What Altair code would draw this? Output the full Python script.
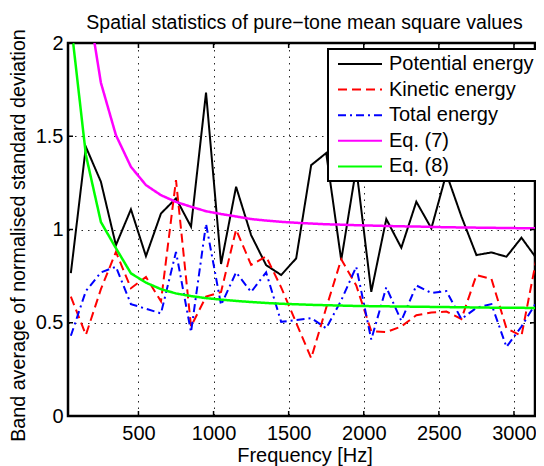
import altair as alt
import pandas as pd

# ---------------- data ----------------
freq = [50, 150, 250, 350, 450, 550, 650, 750, 850, 950, 1050, 1150, 1250, 1350,
        1450, 1550, 1650, 1750, 1850, 1950, 2050, 2150, 2250, 2350, 2450, 2550,
        2650, 2750, 2850, 2950, 3050, 3150]

potential = [0.766, 1.443, 1.256, 0.916, 1.108, 0.857, 1.086, 1.167, 1.015, 1.734,
             0.815, 1.229, 0.970, 0.809, 0.756, 0.845, 1.345, 1.410, 0.836, 1.330,
             0.666, 1.056, 0.902, 1.149, 1.006, 1.300, 1.070, 0.863, 0.877, 0.854,
             0.956, 0.845]

kinetic = [0.640, 0.435, 0.680, 0.880, 0.685, 0.745, 0.615, 1.265, 0.480, 0.640,
           0.665, 1.000, 0.810, 0.855, 0.690, 0.500, 0.310, 0.580, 0.840, 0.700,
           0.455, 0.450, 0.480, 0.540, 0.555, 0.560, 0.520, 0.755, 0.735, 0.470,
           0.430, 0.845]

total = [0.430, 0.670, 0.770, 0.800, 0.600, 0.575, 0.550, 0.880, 0.450, 1.030,
         0.595, 0.770, 0.665, 0.770, 0.505, 0.515, 0.525, 0.470, 0.620, 0.800,
         0.410, 0.690, 0.510, 0.700, 0.660, 0.670, 0.520, 0.580, 0.600, 0.370,
         0.480, 0.610]

eq7 = [3.400, 2.290, 1.787, 1.506, 1.336, 1.238, 1.184, 1.148, 1.122, 1.098,
       1.083, 1.070, 1.056, 1.048, 1.041, 1.036, 1.032, 1.028, 1.026, 1.023,
       1.021, 1.019, 1.017, 1.016, 1.014, 1.012, 1.011, 1.010, 1.009, 1.008,
       1.007, 1.006]

eq8 = [2.110, 1.400, 1.040, 0.900, 0.765, 0.715, 0.680, 0.657, 0.643, 0.632,
       0.624, 0.617, 0.611, 0.606, 0.602, 0.599, 0.596, 0.594, 0.592, 0.590,
       0.589, 0.588, 0.587, 0.586, 0.585, 0.584, 0.583, 0.582, 0.581, 0.580,
       0.580, 0.579]

series_names = ["Potential energy", "Kinetic energy", "Total energy", "Eq. (7)", "Eq. (8)"]
series_colors = ["#000000", "#ff0000", "#0000ff", "#ff00ff", "#00ff00"]
series_dashes = [[1, 0], [9, 5], [8, 4, 2, 4], [1, 0], [1, 0]]
series_widths = [2, 2, 2, 2.5, 2.5]

x_ticks = [500, 1000, 1500, 2000, 2500, 3000]
y_ticks = [0, 0.5, 1, 1.5, 2]

FONT = "Liberation Sans"
W, H = 467, 373

rows = []
for name, vals in zip(series_names, [potential, kinetic, total, eq7, eq8]):
    for f, v in zip(freq, vals):
        rows.append({"freq": f, "value": v, "series": name})
df = pd.DataFrame(rows)

x_scale = alt.Scale(domain=[31, 3140], nice=False, zero=False)
y_scale = alt.Scale(domain=[0, 2], nice=False, zero=False)

x_axis = alt.Axis(values=x_ticks, format="d", title="Frequency [Hz]",
                  titleX=W / 2 + 3, titleY=45.5, titleAlign="center", titleBaseline="alphabetic",
                  titleFontSize=20, labelPadding=7)
y_axis = alt.Axis(values=y_ticks, format="~g", title="Band average of normalised standard deviation",
                  titleX=-44, titleY=192, titleAlign="center", titleBaseline="alphabetic",
                  titleAngle=-90, titleFontSize=19.7, labelPadding=5)

legend = alt.Legend(title=None, orient="none", legendX=260, legendY=6,
                    symbolType="M-2.2,0H2.2", symbolSize=400, symbolStrokeWidth=2,
                    symbolOffset=17, labelOffset=18, labelFontSize=20, labelFont=FONT,
                    labelColor="black", labelLimit=0, rowPadding=4.6, padding=4,
                    fillColor="white", strokeColor="black")

color = alt.Color("series:N", scale=alt.Scale(domain=series_names, range=series_colors),
                  legend=legend, sort=series_names)
dash = alt.StrokeDash("series:N", scale=alt.Scale(domain=series_names, range=series_dashes),
                      legend=legend, sort=series_names)

layers = []
for name, w in zip(series_names, series_widths):
    layers.append(
        alt.Chart(df)
        .transform_filter(alt.datum.series == name)
        .mark_line(clip=True, strokeWidth=w)
        .encode(x=alt.X("freq:Q", scale=x_scale, axis=x_axis),
                y=alt.Y("value:Q", scale=y_scale, axis=y_axis),
                color=color, strokeDash=dash)
    )

# inward ticks on all four sides (MATLAB style)
xt = pd.DataFrame({"freq": x_ticks})
yt = pd.DataFrame({"value": y_ticks})
tick_style = dict(color="black", strokeWidth=1.5)
layers.append(alt.Chart(xt).mark_rule(**tick_style).encode(
    x=alt.X("freq:Q", scale=x_scale), y=alt.value(H), y2=alt.value(H - 5)))
layers.append(alt.Chart(xt).mark_rule(**tick_style).encode(
    x=alt.X("freq:Q", scale=x_scale), y=alt.value(0), y2=alt.value(5)))
layers.append(alt.Chart(yt).mark_rule(**tick_style).encode(
    y=alt.Y("value:Q", scale=y_scale), x=alt.value(0), x2=alt.value(5)))
layers.append(alt.Chart(yt).mark_rule(**tick_style).encode(
    y=alt.Y("value:Q", scale=y_scale), x=alt.value(W), x2=alt.value(W - 5)))

chart = (
    alt.layer(*layers)
    .properties(
        width=W, height=H,
        title=alt.TitleParams(text="Spatial statistics of pure\u2212tone mean square values",
                              fontSize=19.5, font=FONT, fontWeight="normal", color="black",
                              anchor="middle", frame="group", offset=2, dx=3, dy=21.5,
                              baseline="alphabetic"),
        autosize=alt.AutoSizeParams(type="none"),
        padding={"left": 60, "top": 35, "right": 1, "bottom": 50},
    )
    .configure_view(stroke="black", strokeWidth=2.5)
    .configure_axis(labelFont=FONT, labelFontSize=20, labelColor="black",
                    titleFont=FONT, titleFontSize=20, titleColor="black", titleFontWeight="normal",
                    domain=False, ticks=False, tickSize=0,
                    grid=True, gridColor="#000000", gridOpacity=0.85, gridWidth=1,
                    gridDash=[1.5, 5])
    .configure_legend(strokeWidth=2)
)

chart.save("out.html", embed_options={"renderer": "svg", "actions": False})
